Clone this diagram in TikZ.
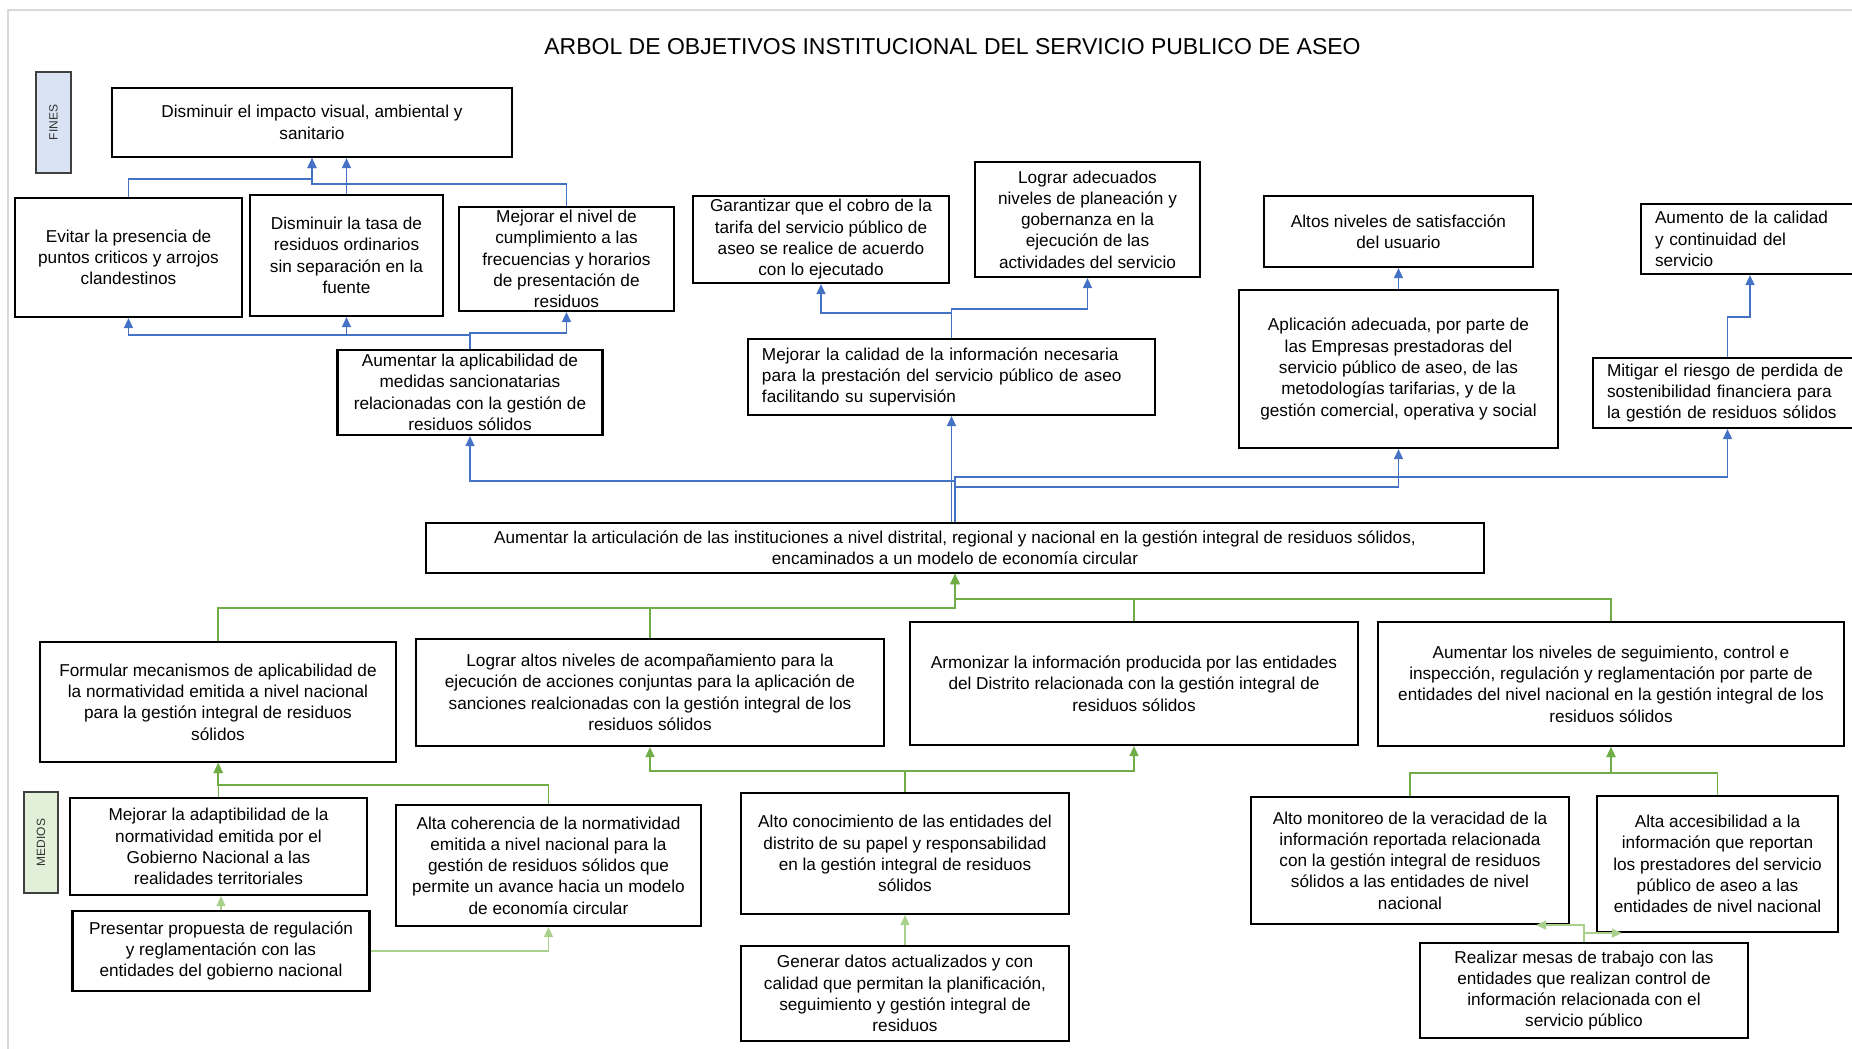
\documentclass[tikz,border=0pt]{standalone}
\usepackage{fontspec}
\setmainfont{Liberation Sans}
\usepackage{tikz}
\usetikzlibrary{arrows.meta, positioning}

\definecolor{finblue}{HTML}{4472C4}
\definecolor{medgreen}{HTML}{70AD47}
\definecolor{palegreen}{HTML}{A9D18E}
\definecolor{finfill}{HTML}{DAE3F3}
\definecolor{medfill}{HTML}{E2F0D9}

\tikzstyle{objbox} = [rectangle, draw=black, line width=2.2pt, text centered, align=center, inner sep=3pt, font=\fontsize{17.2pt}{21.3pt}\selectfont]
\tikzstyle{leftbox} = [objbox, align=left, inner xsep=14pt]
\tikzstyle{rotlabel} = [rectangle, draw=black!75, line width=1.5pt, inner sep=0pt, font=\fontsize{12pt}{14pt}\selectfont, text=black!80]
\tikzstyle{finarrow} = [line width=1.5pt, draw=finblue, ->, >={Triangle[length=10pt,width=9pt]}]
\tikzstyle{medarrow} = [line width=1.5pt, draw=medgreen, ->, >={Triangle[length=10pt,width=9pt]}]
\tikzstyle{palearrow} = [medarrow, draw=palegreen]

\begin{document}
\begin{tikzpicture}[x=1pt, y=1pt, node distance=100pt]
\useasboundingbox (-955,-501) rectangle (897,548);
\draw [line width=2pt, black!15] (897,538) -- (-947,538) -- (-947,-501);

% Objetivo central
\node (central) [objbox, minimum width=1058pt, minimum height=50pt] {Aumentar la articulación de las instituciones a nivel distrital, regional y nacional en la gestión integral de residuos sólidos,\\encaminados a un modelo de economía circular};

% Fines
\node (calidad) [leftbox, text width=379pt, minimum height=76pt, above of=central, xshift=-3.5pt, yshift=71pt] {Mejorar la calidad de la información necesaria\\para la prestación del servicio público de aseo\\facilitando su supervisión};
\node (aplicab) [objbox, minimum width=265pt, minimum height=85pt, above of=central, xshift=-485pt, yshift=55.5pt] {Aumentar la  aplicabilidad de\\medidas sancionatarias\\relacionadas con la gestión de\\residuos sólidos};
\node (aplicacion) [objbox, minimum width=319pt, minimum height=158pt, above of=central, xshift=443.5pt, yshift=79pt] {Aplicación adecuada, por parte de\\las Empresas prestadoras del\\servicio público de aseo, de las\\metodologías tarifarias, y de la\\gestión comercial, operativa y social};
\node (mitigar) [leftbox, text width=241pt, minimum height=70pt, right of=aplicacion, xshift=229pt, yshift=-24pt] {Mitigar el riesgo de perdida de\\sostenibilidad financiera para\\la gestión de residuos sólidos};
\node (garantizar) [objbox, minimum width=256pt, minimum height=87pt, above of=calidad, xshift=-130.5pt, yshift=37.5pt] {Garantizar que el cobro de la\\tarifa del servicio público de\\aseo se realice de acuerdo\\con lo ejecutado};
\node (adecuados) [objbox, minimum width=225pt, minimum height=115pt, above of=calidad, xshift=136pt, yshift=57.5pt] {Lograr adecuados\\niveles de planeación y\\gobernanza en la\\ejecución de las\\actividades del servicio};
\node (altos) [objbox, minimum width=269pt, minimum height=71pt, above of=aplicacion, yshift=37.5pt] {Altos niveles de satisfacción\\del usuario};
\node (aumento) [leftbox, text width=190pt, minimum height=70pt, above of=mitigar, xshift=22.5pt, yshift=54pt] {Aumento de la calidad\\y continuidad del\\servicio};
\node (tasa) [objbox, minimum width=193pt, minimum height=121pt, above of=aplicab, xshift=-123.5pt, yshift=37pt] {Disminuir la tasa de\\residuos ordinarios\\sin separación en la\\fuente};
\node (evitar) [objbox, minimum width=227pt, minimum height=119pt, left of=tasa, xshift=-118pt, yshift=-2pt] {Evitar la presencia de\\puntos criticos y arrojos\\clandestinos};
\node (nivel) [objbox, minimum width=215pt, minimum height=104pt, inner ysep=0pt, right of=tasa, xshift=120pt, yshift=-3.5pt] {Mejorar el nivel de\\cumplimiento a las\\frecuencias y horarios\\de presentación de\\residuos};
\node (impacto) [objbox, minimum width=400pt, minimum height=69pt, above of=tasa, xshift=-34.5pt, yshift=33pt] {Disminuir el impacto visual, ambiental y\\sanitario};
\node (fines) [rotlabel, fill=finfill, minimum width=35pt, minimum height=101pt, left of=impacto, xshift=-158.5pt] {\rotatebox{90}{FINES}};
\node (titulo) [font=\fontsize{23pt}{28pt}\selectfont, above of=calidad, xshift=1pt, yshift=230pt] {ARBOL DE OBJETIVOS INSTITUCIONAL DEL SERVICIO PUBLICO DE ASEO};

% Medios
\node (armonizar) [objbox, minimum width=448pt, minimum height=123pt, below of=central, xshift=179pt, yshift=-35.5pt] {Armonizar la información producida por las entidades\\del Distrito relacionada con la gestión integral de\\residuos sólidos};
\node (logrando) [objbox, minimum width=468pt, minimum height=107pt, left of=armonizar, xshift=-384pt, yshift=-9pt] {Lograr altos niveles de acompañamiento para la\\ejecución de acciones conjuntas para la  aplicación de\\sanciones realcionadas con la gestión integral de los\\residuos sólidos};
\node (niveles) [objbox, minimum width=466pt, minimum height=124pt, right of=armonizar, xshift=377pt, yshift=-0.5pt] {Aumentar los niveles de seguimiento, control e\\inspección, regulación y reglamentación por parte de\\entidades del nivel nacional en la gestión integral de los\\residuos sólidos};
\node (formular) [objbox, minimum width=356pt, minimum height=120pt, left of=logrando, xshift=-332pt, yshift=-9.5pt] {Formular mecanismos de aplicabilidad de\\la normatividad emitida a nivel nacional\\para la gestión integral de residuos\\sólidos};
\node (adaptib) [objbox, minimum width=297pt, minimum height=97pt, below of=formular, xshift=0.5pt, yshift=-44.5pt] {Mejorar la adaptibilidad de la\\normatividad emitida por el\\Gobierno Nacional a las\\realidades territoriales};
\node (presentar) [objbox, minimum width=297pt, minimum height=80pt, below of=adaptib, xshift=2.5pt, yshift=-4.5pt] {Presentar propuesta de regulación\\y reglamentación con las\\entidades del gobierno nacional};
\node (coherencia) [objbox, minimum width=305pt, minimum height=121pt, right of=adaptib, xshift=230pt, yshift=-19pt] {Alta coherencia de la normatividad\\emitida a nivel nacional para la\\gestión de residuos sólidos que\\permite un avance hacia un modelo\\de economía circular};
\node (medios) [rotlabel, fill=medfill, minimum width=34pt, minimum height=101pt, left of=adaptib, xshift=-77.5pt, yshift=4pt] {\rotatebox{90}{MEDIOS}};
\node (conocimiento) [objbox, minimum width=328pt, minimum height=121pt, below of=armonizar, xshift=-229pt, yshift=-70pt] {Alto conocimiento de las entidades del\\distrito de su papel y responsabilidad\\en la gestión integral de residuos\\sólidos};
\node (generar) [objbox, minimum width=328pt, minimum height=95pt, below of=conocimiento, yshift=-40pt] {Generar datos actualizados y con\\calidad que permitan la planificación,\\seguimiento y gestión integral de\\residuos};
\node (monitoreo) [objbox, minimum width=318pt, minimum height=127pt, below of=niveles, xshift=-201pt, yshift=-76.5pt] {Alto monitoreo de la veracidad de la\\información reportada relacionada\\con la gestión integral de residuos\\sólidos a las entidades de nivel\\nacional};
\node (accesib) [objbox, minimum width=241pt, minimum height=136pt, right of=monitoreo, xshift=207.5pt, yshift=-3.5pt] {Alta accesibilidad a la\\información que reportan\\los prestadores del servicio\\público de aseo a las\\entidades de nivel nacional};
\node (realizar) [objbox, minimum width=328pt, minimum height=95pt, below of=monitoreo, xshift=174pt, yshift=-30pt] {Realizar mesas de trabajo con las\\entidades que  realizan control de\\información relacionada con el\\servicio público};

% Flechas hacia los fines
\draw [finarrow] (evitar.north) |- ([yshift=-21pt]impacto.south) -- (impacto.south);
\draw [finarrow] (tasa.north) -- (tasa.north |- impacto.south);
\draw [finarrow] (nivel.north) |- ([yshift=-26pt]impacto.south) -- (impacto.south);
\draw [finarrow] (aplicab.north) |- ([yshift=-17pt]evitar.south) -- (evitar.south);
\draw [finarrow] (aplicab.north) |- ([yshift=-18pt]tasa.south) -- (tasa.south);
\draw [finarrow] (aplicab.north) |- ([yshift=-21pt]nivel.south) -- (nivel.south);
\draw [finarrow] (calidad.north) |- ([yshift=-29pt]garantizar.south) -- (garantizar.south);
\draw [finarrow] (calidad.north) |- ([yshift=-31pt]adecuados.south) -- (adecuados.south);
\draw [finarrow] (aplicacion.north) -- (altos.south);
\draw [finarrow] (mitigar.north) |- ([yshift=-42pt]aumento.south) -- (aumento.south);
\draw [finarrow] (central.north) |- ([yshift=-45pt]aplicab.south) -- (aplicab.south);
\draw [finarrow] (central.north -| calidad.south) -- (calidad.south);
\draw [finarrow] (central.north) |- ([yshift=-38pt]aplicacion.south) -- (aplicacion.south);
\draw [finarrow] (central.north) |- ([yshift=-48pt]mitigar.south) -- (mitigar.south);

% Flechas desde los medios
\draw [medarrow] (formular.north) |- ([yshift=-34pt]central.south) -- (central.south);
\draw [medarrow] (logrando.north) |- ([yshift=-34pt]central.south) -- (central.south);
\draw [medarrow] (armonizar.north) |- ([yshift=-25pt]central.south) -- (central.south);
\draw [medarrow] (niveles.north) |- ([yshift=-25pt]central.south) -- (central.south);
\draw [medarrow] (adaptib.north) -- (adaptib.north |- formular.south);
\draw [medarrow] (coherencia.north) |- ([yshift=-22pt]formular.south) -- (formular.south);
\draw [palearrow] (presentar.north) -- (presentar.north |- adaptib.south);
\draw [palearrow] (presentar.east) -| (coherencia.south);
\draw [medarrow] (conocimiento.north) |- ([yshift=-24pt]logrando.south) -- (logrando.south);
\draw [medarrow] (conocimiento.north) |- ([yshift=-25pt]armonizar.south) -- (armonizar.south);
\draw [palearrow] (generar.north) -- (conocimiento.south);
\draw [medarrow] (monitoreo.north) |- ([yshift=-26pt]niveles.south) -- (niveles.south);
\draw [medarrow] (accesib.north) |- ([yshift=-26pt]niveles.south) -- (niveles.south);
\draw [palearrow] (realizar.north) |- ([xshift=-34pt]monitoreo.south east);
\draw [palearrow] (realizar.north) |- ([xshift=26pt]accesib.south west);

\end{tikzpicture}
\end{document}
